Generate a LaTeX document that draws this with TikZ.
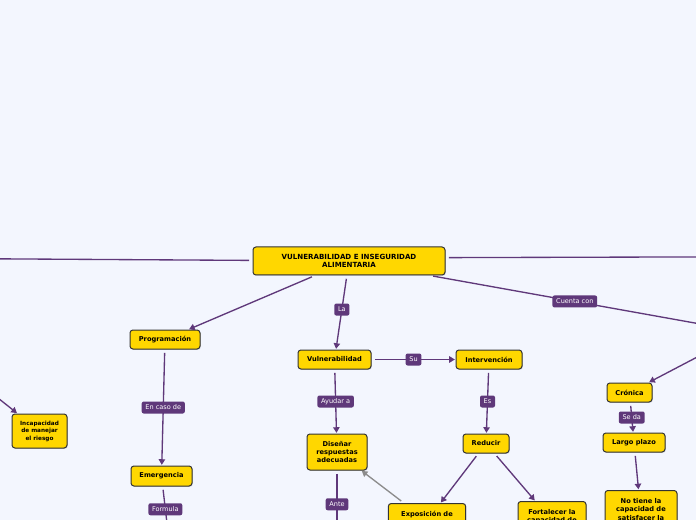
\documentclass[tikz,border=0pt]{standalone}
\usepackage{fontspec}
\newfontfamily\mapfont{DejaVu Sans}
\usetikzlibrary{arrows.meta,shadows}

\definecolor{mapbg}{RGB}{243,246,254}
\definecolor{mapyellow}{RGB}{255,215,0}
\definecolor{mapborder}{RGB}{51,51,51}
\definecolor{mappurple}{RGB}{95,56,122}
\definecolor{mapgray}{RGB}{140,140,140}

\tikzset{
    topic/.style={draw=mapborder, fill=mapyellow, rounded corners=2.2pt, line width=0.75pt,
        font=\mapfont\bfseries\fontsize{5}{6.2}\selectfont, align=center, inner sep=2pt,
        drop shadow={shadow xshift=0.6pt, shadow yshift=-0.6pt, opacity=0.3}},
    linklabel/.style={fill=mappurple, text=white, rounded corners=1.5pt,
        font=\mapfont\fontsize{4.9}{6}\selectfont, inner xsep=2.8pt, inner ysep=0pt, minimum height=9pt},
    link/.style={draw=mappurple, line width=1pt, -{Triangle[width=4.8pt,length=4.2pt]},
        shorten <=2.5pt, shorten >=0.5pt},
    linkgray/.style={link, draw=mapgray},
}

\begin{document}
\begin{tikzpicture}[x=0.75pt,y=0.75pt,yscale=-1,xscale=1]
    %set diagram size
    \fill[mapbg] (0,0) rectangle (696,520);
    \useasboundingbox (0,0) rectangle (696,520);
    \clip (0,0) rectangle (696,520);

    % Text Node
    \node[topic, font=\mapfont\bfseries\fontsize{5.3}{6.4}\selectfont, minimum width=144pt, minimum height=21pt] (root) at (349,261) {VULNERABILIDAD E INSEGURIDAD\\ALIMENTARIA};
    % Text Node
    \node[topic, minimum width=52.5pt, minimum height=14.25pt] (prog) at (165,339.5) {Programación};
    % Text Node
    \node[topic, minimum width=54.75pt, minimum height=14.25pt] (vuln) at (334.5,359.5) {Vulnerabilidad};
    % Text Node
    \node[topic, minimum width=49.5pt, minimum height=14.25pt] (interv) at (489,359.5) {Intervención};
    % Text Node
    \node[topic, minimum width=45pt, minimum height=27pt] (disenar) at (337,452) {Diseñar\\respuestas\\adecuadas};
    % Text Node
    \node[topic, minimum width=34.5pt, minimum height=14.25pt] (reducir) at (486,443.5) {Reducir};
    % Text Node
    \node[topic, minimum width=45.75pt, minimum height=15pt] (emerg) at (161.5,476) {Emergencia};
    % Text Node
    \node[topic, font=\mapfont\bfseries\fontsize{4.3}{5.6}\selectfont, minimum width=41.25pt, minimum height=25.5pt] (incap) at (39.5,431) {Incapacidad\\de manejar\\el riesgo};
    % Text Node
    \node[topic, minimum width=33.75pt, minimum height=14.25pt] (cronica) at (629.5,392.5) {Crónica};
    % Text Node
    \node[topic, minimum width=46.5pt, minimum height=14.25pt] (largo) at (634,442.5) {Largo plazo};
    % Text Node (cut by the lower edge)
    \node[topic, anchor=north, text width=54pt, text height=7.75pt, text depth=14pt] (expos) at (427,503) {Exposición de};
    % Text Node (cut by the lower edge)
    \node[topic, anchor=north, text width=47pt, text height=7.75pt, text depth=17pt] (fortal) at (552,501) {Fortalecer la\\capacidad de};
    % Text Node (cut by the lower edge)
    \node[topic, anchor=north, text width=50pt, text height=7.75pt, text depth=26pt] (notiene) at (641,490) {No tiene la\\capacidad de\\satisfacer la};

    %Free ends outside the picture
    \coordinate (westend) at (-300,257);
    \coordinate (eastend) at (1200,255.5);
    \coordinate (inseg) at (745,332);
    \coordinate (incapsrc) at (-60,352);
    \coordinate (antedst) at (337,538);
    \coordinate (formdst) at (168,532);

    %Straight Lines
    \draw[link] (root) -- (westend);
    \draw[link] (root.2.2) -- (eastend);
    \draw[link] (root) -- (prog);
    \draw[link] (root) -- node[linklabel, pos=0.46] {La} (vuln);
    \draw[link] (root) -- node[linklabel, pos=0.46] {Cuenta con} (inseg);
    \draw[link] (inseg) -- (cronica);
    \draw[link] (incapsrc) -- (incap);
    \draw[link] (vuln) -- node[linklabel] {Su} (interv);
    \draw[link] (vuln) -- node[linklabel] {Ayudar a} (disenar);
    \draw[link] (interv) -- node[linklabel] {Es} (reducir);
    \draw[link] (reducir) -- (expos);
    \draw[link] (reducir) -- (fortal);
    \draw[linkgray] (expos) -- (disenar);
    \draw[link] (disenar) -- node[linklabel] {Ante} (antedst);
    \draw[link] (prog) -- node[linklabel] {En caso de} (emerg);
    \draw[link] (emerg) -- node[linklabel] {Formula} (formdst);
    \draw[link] (cronica) -- node[linklabel] {Se da} (largo);
    \draw[link] (largo) -- (notiene);

\end{tikzpicture}
\end{document}
